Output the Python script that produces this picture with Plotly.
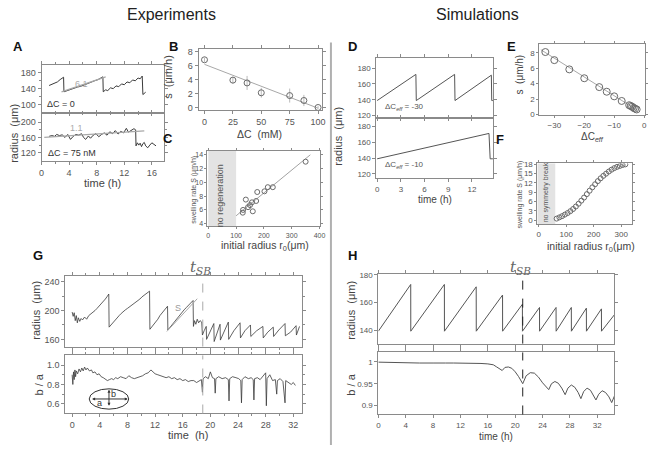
import plotly.graph_objects as go

W, H = 654, 449

# ---------------- data ----------------
# Panel A (experiments, radius vs time)
A_top_t = [1.1, 1.5, 1.9, 2.3, 2.7, 3.2, 3.25, 3.7, 4.2, 4.7, 5.2, 5.7, 6.2, 6.7, 7.2, 7.7, 8.2, 8.6, 8.9, 8.95,
           9.3, 9.6, 10.0, 10.4, 10.8, 11.2, 11.6, 12.0, 12.4, 12.8, 13.2, 13.6, 14.0, 14.3, 14.6, 14.7, 14.9, 15.1]
A_top_r = [148, 151, 153, 157, 163, 169, 132, 135, 138, 141, 144, 146, 150, 153, 156, 160, 163, 166, 170, 132,
           137, 135, 142, 140, 147, 145, 152, 150, 157, 155, 162, 160, 167, 165, 172, 125, 128, 131]
A_top_fit_t = [2.9, 9.3]
A_top_fit_r = [131.7, 170.0]
A_bot_t = [1.1, 1.5, 1.9, 2.2, 2.6, 3.0, 3.4, 3.8, 4.2, 4.6, 5.0, 5.4, 5.8, 6.1, 6.4, 6.8, 7.1, 7.5, 7.9, 8.3,
           8.7, 9.1, 9.5, 9.9, 10.3, 10.7, 11.1, 11.5, 11.9, 12.3, 12.6, 13.0, 13.4, 13.65, 13.7, 13.9, 14.1,
           14.3, 14.5, 14.7, 14.9, 15.1, 15.4, 15.7, 16.0, 16.3, 16.6]
A_bot_r = [163, 165, 163, 168, 165, 167, 160, 168, 155, 163, 168, 166, 170, 160, 155, 164, 158, 166, 170, 162,
           168, 172, 166, 175, 170, 178, 169, 176, 172, 184, 174, 178, 183, 180, 138, 146, 140,
           145, 136, 144, 147, 138, 133, 140, 146, 142, 138]
A_bot_fit_t = [0.4, 14.9]
A_bot_fit_r = [160.4, 177.6]

# Panel B
B_dC = [0, 25, 37.5, 50, 75, 87.5, 100]
B_s = [6.8, 3.9, 3.5, 2.1, 1.7, 1.0, 0.0]
B_err = [0.3, 0.5, 1.0, 0.7, 1.0, 0.8, 0.2]
B_fit_dC = [0, 100]
B_fit_s = [6.15, -0.1]

# Panel C
C_r0 = [124, 125, 135, 143, 150, 157, 160, 172, 176, 202, 214, 232, 350]
C_s = [5.6, 6.0, 7.5, 6.4, 6.7, 7.1, 5.8, 7.3, 8.6, 8.7, 9.3, 9.3, 13.0]
C_fit_r0 = [100, 367]
C_fit_s = [5.15, 14.0]

# Panel D (simulations)
D1_t = [0, 4.9, 4.95, 9.8, 9.85, 14.45, 14.5, 14.65]
D1_r = [139, 172, 139, 172, 139, 171, 139, 139]
D2_t = [0, 14.15, 14.3, 14.65]
D2_r = [139, 171, 139, 139]

# Panel E
E_dC = [-33, -30, -25, -20, -15, -12.5, -10, -7.5, -5, -4.5, -4, -3.5, -3, -2.5]
E_s = [8.1, 7.05, 5.85, 4.7, 3.55, 2.95, 2.35, 1.75, 1.2, 1.1, 1.0, 0.85, 0.75, 0.65]
E_fit_dC = [-34.5, -2.5]
E_fit_s = [8.4, 0.6]

# Panel F
F_r0 = [65, 75, 85, 95, 105, 115, 125, 135, 145, 155, 165, 175, 185, 195, 205, 215, 225, 235, 245, 255,
        265, 275, 285, 295, 305, 315]
F_s = [0.5, 0.9, 1.3, 1.8, 2.3, 2.9, 3.6, 4.4, 5.3, 6.3, 7.3, 8.4, 9.5, 10.6, 11.6, 12.6, 13.5, 14.3, 15.0, 15.7,
       16.3, 16.8, 17.2, 17.5, 17.8, 18.0]

# Panel G (experiment, long time series)
G1_t = [0.0, 0.15, 0.3, 0.45, 0.6, 0.75, 0.9, 1.1, 1.3, 1.5, 1.8, 2.1, 2.4, 2.7, 3.0, 3.3, 3.6, 3.9, 4.2, 4.5,
        4.8, 5.1, 5.3, 5.35, 5.6, 5.9, 6.2, 6.5, 6.8, 7.1, 7.4, 7.7, 8.0, 8.3, 8.6, 8.9, 9.2, 9.5, 9.8, 10.1,
        10.4, 10.7, 11.0, 11.2, 11.25, 11.5, 11.8, 12.1, 12.4, 12.7, 13.0, 13.3, 13.6, 13.8, 13.85, 14.1,
        14.4, 14.7, 15.0, 15.3, 15.6, 15.9, 16.2, 16.5, 16.8, 17.1, 17.4, 17.5, 17.55, 17.7, 17.9, 18.1,
        18.3, 18.5, 18.75, 18.85, 19.1, 19.4, 19.45, 19.9, 20.5, 20.55, 20.9, 21.4, 21.45, 22.0, 22.6,
        22.65, 23.4, 24.3, 24.35, 25.0, 25.8, 25.85, 26.7, 27.6, 27.65, 28.3, 29.1, 29.15, 29.9, 30.8,
        30.85, 31.6, 32.4, 32.45, 32.9]
G1_r = [198, 192, 197, 186, 193, 183, 190, 185, 189, 187, 191, 188, 193, 195, 197, 200, 203, 206, 209, 213,
        216, 220, 223, 177, 180, 183, 186, 190, 193, 196, 199, 201, 203, 205, 207, 209, 211, 214, 216, 219,
        221, 223, 225, 227, 174, 177, 180, 184, 188, 193, 197, 200, 204, 206, 173, 176,
        180, 183, 187, 191, 195, 198, 201, 204, 207, 210, 213, 214, 178, 186, 181, 188,
        183, 186, 184, 166, 172, 178, 160, 170, 182, 157, 168, 181, 159, 172, 184,
        160, 172, 183, 162, 172, 180, 164, 172, 178, 162, 170, 177, 164, 173, 182,
        165, 170, 179, 166, 178]
G1_fit_t = [13.7, 18.1]
G1_fit_r = [171, 216.5]
G2_t = [0.0, 0.1, 0.2, 0.3, 0.4, 0.5, 0.6, 0.8, 1.0, 1.2, 1.4, 1.6, 1.8, 2.0, 2.2, 2.5, 2.8, 3.0, 3.3, 3.6,
        3.9, 4.2, 4.5, 4.8, 5.1, 5.4, 5.7, 6.0, 6.3, 6.6, 7.0, 7.4, 7.8, 8.2, 8.6, 9.0, 9.4, 9.8, 10.2,
        10.6, 11.0, 11.4, 11.7, 12.0, 12.4, 12.8, 13.2, 13.6, 14.0, 14.4, 14.8, 15.2, 15.6, 16.0, 16.4,
        16.8, 17.2, 17.6, 18.0, 18.4, 18.7, 18.85, 18.95, 19.3, 19.7, 20.0, 20.3, 20.6, 20.7, 20.8, 21.2,
        21.7, 22.2, 22.6, 22.7, 22.8, 23.2, 23.7, 24.1, 24.4, 24.5, 24.6, 25.0, 25.5, 25.9, 26.2, 26.3,
        26.4, 26.8, 27.2, 27.6, 28.0, 28.1, 28.2, 28.6, 29.0, 29.4, 29.6, 29.7, 30.1, 30.5, 30.8, 30.9,
        31.3, 31.7, 32.0, 32.3]
G2_ba = [0.90, 0.80, 0.93, 0.85, 0.95, 0.88, 0.94, 0.91, 0.96, 0.93, 0.97, 0.94, 0.98, 0.95, 0.97, 0.94, 0.95,
         0.92, 0.93, 0.90, 0.91, 0.88, 0.87, 0.85, 0.84, 0.85, 0.86, 0.85, 0.87, 0.86, 0.88, 0.87, 0.86, 0.89,
         0.87, 0.86, 0.87, 0.88, 0.89, 0.91, 0.92, 0.95, 0.93, 0.91, 0.90, 0.89, 0.88, 0.87, 0.88, 0.86, 0.87,
         0.85, 0.86, 0.84, 0.85, 0.83, 0.84, 0.84, 0.82, 0.84, 0.85, 0.72, 0.86, 0.88, 0.86, 0.93, 0.87, 0.86,
         0.71, 0.86, 0.88, 0.86, 0.87, 0.85, 0.63, 0.86, 0.88, 0.87, 0.86, 0.84, 0.61, 0.85, 0.88, 0.86, 0.87,
         0.85, 0.64, 0.86, 0.87, 0.85, 0.89, 0.92, 0.58, 0.86, 0.90, 0.84, 0.85, 0.70, 0.84, 0.86, 0.83, 0.61,
         0.84, 0.82, 0.80, 0.82, 0.79]
G_tSB = 18.9

# Panel H (simulation, long time series)
H1_t = [0, 4.73, 4.74, 9.65, 9.66, 14.3, 14.31, 18.15, 18.16, 21.05, 21.06, 23.55, 23.56, 25.97, 25.98,
        28.2, 28.21, 30.4, 30.41, 32.6, 32.61, 34.5]
H1_r = [139.5, 173, 139.5, 173, 139.5, 171.3, 139.5, 165.4, 139.5, 158.8, 139.5, 156.5, 139.5, 156.5, 139.5,
        156.5, 139.5, 156.0, 139.5, 155.5, 139.5, 151.3]
H2_t = [0, 2, 4, 6, 8, 9.3, 9.8, 11, 12, 14, 15, 16, 16.8, 17.3, 17.8, 18.1, 18.5, 19.0, 19.5, 20.0, 20.5,
        21.1, 21.6, 22.2, 22.8, 23.4, 24.0, 24.9, 25.3, 25.8, 26.3, 26.8, 27.3, 27.7, 28.2, 28.7, 29.2,
        29.6, 30.0, 30.5, 31.0, 31.4, 31.8, 32.2, 32.7, 33.2, 33.7, 34.1, 34.5]
H2_ba = [0.999, 0.998, 0.998, 0.997, 0.997, 0.996, 0.997, 0.997, 0.997, 0.997, 0.996, 0.995, 0.993, 0.988,
         0.983, 0.980, 0.987, 0.988, 0.985, 0.977, 0.966, 0.950, 0.968, 0.975, 0.974, 0.965, 0.952, 0.9365,
         0.950, 0.955, 0.951, 0.940, 0.925, 0.940, 0.947, 0.942, 0.930, 0.916, 0.932, 0.940, 0.935, 0.925,
         0.913, 0.926, 0.934, 0.930, 0.920, 0.907, 0.922]
H_tSB = 21.1

# ---------------- styling helpers ----------------
FONT = "Liberation Sans"
AXC = "#8a8a8a"
TXC = "#555555"
LC = "#3a3a3a"
GRAYFIT = "#a8a8a8"


def dom(px0, px1, py0, py1):
    return [px0 / W, px1 / W], [1 - py1 / H, 1 - py0 / H]


def axis(domain, rng, anchor, tickvals, ticktext=None, labels=True, size=9, minor=None, ticklen=3):
    d = dict(domain=domain, range=rng, anchor=anchor, showline=True, linecolor=AXC, linewidth=1,
             mirror="ticks", ticks="outside", ticklen=ticklen, tickcolor=AXC, tickwidth=1,
             tickfont=dict(size=size, color=TXC, family=FONT), showgrid=False, zeroline=False,
             tickmode="array", tickvals=tickvals, showticklabels=labels, fixedrange=True)
    if ticktext is not None:
        d["ticktext"] = ticktext
    if minor is not None:
        d["minor"] = dict(tickvals=minor, ticks="outside", ticklen=2, tickcolor=AXC)
    return d


layout = dict(width=W, height=H, autosize=False, margin=dict(l=0, r=0, t=0, b=0),
              paper_bgcolor="white", plot_bgcolor="white", showlegend=False,
              font=dict(family=FONT, color="#333"))

boxes = {
    1: dom(39, 163, 63, 111),    # A top
    2: dom(39, 163, 113, 161),   # A bottom
    3: dom(198, 323, 47, 109),   # B
    4: dom(207, 321, 150, 227),  # C
    5: dom(378, 496, 56, 116),   # D top
    6: dom(378, 496, 118, 178),  # D bottom
    7: dom(543, 650, 42, 114),   # E
    8: dom(541, 637, 163, 225),  # F
    9: dom(63, 303, 277, 349),   # G top
    10: dom(63, 303, 358, 417),  # G bottom
    11: dom(380, 619, 275, 346), # H top
    12: dom(380, 619, 355, 418), # H bottom
}

spec = {
    1: dict(xr=[0, 17.76], xt=[0, 4, 8, 12, 16], xl=False, yr=[80, 200], yt=[100, 140, 180], xm=[2, 6, 10, 14], ym=[120, 160]),
    2: dict(xr=[0, 17.76], xt=[0, 4, 8, 12, 16], xl=True, yr=[97, 221], yt=[120, 160, 200], xm=[2, 6, 10, 14], ym=[140, 180]),
    3: dict(xr=[-5.2, 103.5], xt=[0, 25, 50, 75, 100], xl=True, yr=[-0.4, 8.3], yt=[0, 2, 4, 6, 8], xm=None, ym=None),
    4: dict(xr=[-3, 402], xt=[0, 100, 200, 300, 400], xl=True, yr=[3.6, 14.6], yt=[4, 6, 8, 10, 12, 14], xm=None, ym=None, fs=7, tl=2),
    5: dict(xr=[-0.1, 14.65], xt=[0, 3, 6, 9, 12], xl=False, yr=[118, 192.5], yt=[120, 140, 160, 180], xm=None, ym=None, fs=8),
    6: dict(xr=[-0.1, 14.65], xt=[0, 3, 6, 9, 12], xl=True, yr=[114.5, 189], yt=[120, 140, 160, 180], xm=None, ym=None, fs=8),
    7: dict(xr=[-35, 0.3], xt=[-30, -20, -10, 0], xl=True, yr=[-0.1, 9.1], yt=[0, 2, 4, 6, 8], xm=None, ym=None, fs=8, tl=2),
    8: dict(xr=[-5, 340], xt=[0, 100, 200, 300], xl=True, yr=[-1.4, 18.3], yt=[0, 3, 6, 9, 12, 15, 18], xm=None, ym=None, fs=8, tl=2),
    9: dict(xr=[-1, 33.3], xt=list(range(0, 33, 4)), xl=False, yr=[150, 248.5], yt=[160, 200, 240], xm=list(range(2, 33, 4)), ym=[180, 220]),
    10: dict(xr=[-1, 33.3], xt=list(range(0, 33, 4)), xl=True, yr=[0.5, 1.1], yt=[0.6, 0.8, 1.0], yx=["0.6", "0.8", "1.0"], xm=list(range(2, 33, 4)), ym=[0.7, 0.9]),
    11: dict(xr=[0, 34.5], xt=list(range(0, 33, 4)), xl=False, yr=[130.6, 180.7], yt=[140, 160, 180], xm=None, ym=None, fs=8),
    12: dict(xr=[0, 34.5], xt=list(range(0, 33, 4)), xl=True, yr=[0.88, 1.021], yt=[0.9, 0.95, 1], yx=["0.9", "0.95", "1"], xm=None, ym=None, fs=8),
}

for i, (xd, yd) in boxes.items():
    s = spec[i]
    fs = s.get("fs", 9)
    tl = s.get("tl", 3)
    sfx = "" if i == 1 else str(i)
    layout["xaxis" + sfx] = axis(xd, s["xr"], "y" + sfx, s["xt"], labels=s["xl"], size=fs, minor=s["xm"], ticklen=tl)
    layout["yaxis" + sfx] = axis(yd, s["yr"], "x" + sfx, s["yt"], ticktext=s.get("yx"), size=fs, minor=s["ym"], ticklen=tl)


def ref(i):
    return ("x", "y") if i == 1 else ("x%d" % i, "y%d" % i)


traces = []


def line(i, x, y, color=LC, width=1, dash=None):
    xa, ya = ref(i)
    traces.append(go.Scatter(x=x, y=y, mode="lines", xaxis=xa, yaxis=ya, hoverinfo="skip",
                             line=dict(color=color, width=width, dash=dash)))


def circles(i, x, y, err=None, size=6):
    xa, ya = ref(i)
    kw = {}
    if err is not None:
        kw["error_y"] = dict(type="data", array=err, color="#bbbbbb", thickness=1, width=0)
    traces.append(go.Scatter(x=x, y=y, mode="markers", xaxis=xa, yaxis=ya, hoverinfo="skip",
                             marker=dict(symbol="circle-open", size=size, color="#6a6a6a",
                                         line=dict(width=1, color="#6a6a6a")), **kw))


shapes = []
annotations = []

# Panel A
line(1, A_top_t, A_top_r)
line(1, A_top_fit_t, A_top_fit_r, GRAYFIT, 1.2)
line(2, A_bot_t, A_bot_r)
line(2, A_bot_fit_t, A_bot_fit_r, GRAYFIT, 1.2)
# Panel B
line(3, B_fit_dC, B_fit_s, GRAYFIT, 1)
circles(3, B_dC, B_s, B_err)
# Panel C
shapes.append(dict(type="rect", xref="x4", yref="y4 domain", x0=0, x1=100, y0=0, y1=1,
                   fillcolor="#e3e3e3", line=dict(width=0), layer="below"))
line(4, C_fit_r0, C_fit_s, "#8a8a8a", 0.8)
circles(4, C_r0, C_s, size=5)
# Panel D
line(5, D1_t, D1_r, "#555", 1)
line(6, D2_t, D2_r, "#555", 1)
# Panel E
line(7, E_fit_dC, E_fit_s, GRAYFIT, 1)
circles(7, E_dC, E_s, size=7)
# Panel F
shapes.append(dict(type="rect", xref="x8", yref="y8 domain", x0=-5, x1=60, y0=0, y1=1,
                   fillcolor="#e3e3e3", line=dict(width=0), layer="below"))
circles(8, F_r0, F_s, size=5)
# Panel G
line(9, G1_t, G1_r, LC, 0.8)
line(9, G1_fit_t, G1_fit_r, GRAYFIT, 1)
line(10, G2_t, G2_ba, LC, 0.8)
for i in (9, 10):
    xa, ya = ref(i)
    shapes.append(dict(type="line", xref=xa, yref=ya + " domain", x0=G_tSB, x1=G_tSB, y0=0, y1=1,
                       line=dict(color="#aaaaaa", width=1, dash="dash")))
# Panel H
line(11, H1_t, H1_r, "#555", 1)
line(12, H2_t, H2_ba, "#555", 1)
for i in (11, 12):
    xa, ya = ref(i)
    shapes.append(dict(type="line", xref=xa, yref=ya + " domain", x0=H_tSB, x1=H_tSB, y0=0, y1=1,
                       line=dict(color="#222222", width=1, dash="dash")))

# ellipse inset in G bottom
shapes.append(dict(type="circle", xref="x10", yref="y10", x0=2.47, x1=8.19, y0=0.545, y1=0.755,
                   line=dict(color="#333", width=1)))
annotations.append(dict(xref="x10", yref="y10", axref="x10", ayref="y10", x=8.05, y=0.65, ax=2.6, ay=0.65,
                        text=" ", showarrow=True, arrowhead=2, arrowside="end+start", arrowsize=0.6,
                        arrowwidth=1, arrowcolor="#333", font=dict(size=2)))
annotations.append(dict(xref="x10", yref="y10", axref="x10", ayref="y10", x=5.33, y=0.745, ax=5.33, ay=0.555,
                        text=" ", showarrow=True, arrowhead=2, arrowside="end+start", arrowsize=0.6,
                        arrowwidth=1, arrowcolor="#333", font=dict(size=2)))
annotations.append(dict(xref="x10", yref="y10", x=4.0, y=0.61, text="a", showarrow=False,
                        font=dict(size=9, color="#333")))
annotations.append(dict(xref="x10", yref="y10", x=6.0, y=0.70, text="b", showarrow=False,
                        font=dict(size=9, color="#333")))


def ptext(x, y, text, size=11, color="#333", angle=0, family=FONT, xanchor="center", yanchor="middle"):
    annotations.append(dict(xref="paper", yref="paper", x=x / W, y=1 - y / H, text=text, showarrow=False,
                            textangle=angle, xanchor=xanchor, yanchor=yanchor,
                            font=dict(size=size, color=color, family=family)))


def dtext(i, x, y, text, size=9, color="#333", xanchor="left"):
    xa, ya = ref(i)
    annotations.append(dict(xref=xa, yref=ya, x=x, y=y, text=text, showarrow=False, xanchor=xanchor,
                            font=dict(size=size, color=color, family=FONT)))


# titles
ptext(171, 12, "Experiments", 16, "#222")
ptext(480, 12, "Simulations", 16, "#222")
# panel letters
for lx, ly, L in [(15, 44, "A"), (173, 44, "B"), (354, 44, "D"), (515, 44, "E"), (167, 138, "C"),
                  (503, 139, "F"), (35, 256, "G"), (354, 256, "H")]:
    ptext(lx, ly, "<b>%s</b>" % L, 13, "#111")

# axis labels
ptext(11, 132, "radius  (μm)", 11, "#444", -90)
ptext(101, 183, "time (h)", 11, "#444")
ptext(167, 75, "s  (μm/h)", 11, "#444", -90)
ptext(260, 133, "ΔC  (mM)", 10.5, "#444")
ptext(193, 190, "swelling rate S (μm/h)", 7, "#555", -90)
ptext(265, 247, "initial radius r<sub>0</sub>(μm)", 10.5, "#444")
ptext(220, 196, "no regeneration", 9, "#555", -90)
ptext(339, 135, "radius  (μm)", 11, "#444", -90)
ptext(437, 200, "time (h)", 10, "#444")
ptext(523, 73, "s  (μm/h)", 10, "#444", -90)
ptext(597, 136, "ΔC<sub><i>eff</i></sub>", 10, "#444")
ptext(523, 195, "swelling rate S (μm/h)", 7, "#555", -90)
ptext(595, 248, "initial radius r<sub>0</sub>(μm)", 10.5, "#444")
ptext(550, 192, "no symmetry break", 7, "#555", -90)
ptext(34, 312, "radius  (μm)", 11, "#444", -90)
ptext(36, 388, "b / a", 11, "#444", -90)
ptext(187, 439, "time  (h)", 11, "#444")
ptext(352, 312, "radius  (μm)", 11, "#444", -90)
ptext(352, 388, "b / a", 11, "#444", -90)
ptext(499, 440, "time (h)", 10, "#444")
ptext(200, 269, "<i>t</i><sub><i>SB</i></sub>", 15, "#666", family="DejaVu Serif")
ptext(524, 269, "<i>t</i><sub><i>SB</i></sub>", 15, "#666", family="DejaVu Serif")

# in-panel labels
dtext(1, 0.5, 100, "ΔC = 0", 9)
dtext(1, 5.86, 151, "6.1", 9, "#aaaaaa", "center")
dtext(2, 0.6, 120, "ΔC = 75 nM", 9)
dtext(2, 5.1, 186, "1.1", 9, "#aaaaaa", "center")
dtext(5, 0.7, 131, "ΔC<sub><i>eff</i></sub> = -30", 8, "#555")
dtext(6, 0.7, 131.5, "ΔC<sub><i>eff</i></sub> = -10", 8, "#555")
dtext(9, 15.3, 203, "S", 9, "#999999", "center")

# separator between experiments and simulations
shapes.append(dict(type="line", xref="paper", yref="paper", x0=332 / W, x1=332 / W, y0=0, y1=1 - 40 / H,
                   line=dict(color="#b0b0b0", width=2)))

layout["shapes"] = shapes
layout["annotations"] = annotations

fig = go.Figure(data=traces, layout=layout)
fig.write_html("out.html", config={"displayModeBar": False, "staticPlot": True},
               post_script="document.body.style.margin='0';document.body.style.overflow='hidden';")
